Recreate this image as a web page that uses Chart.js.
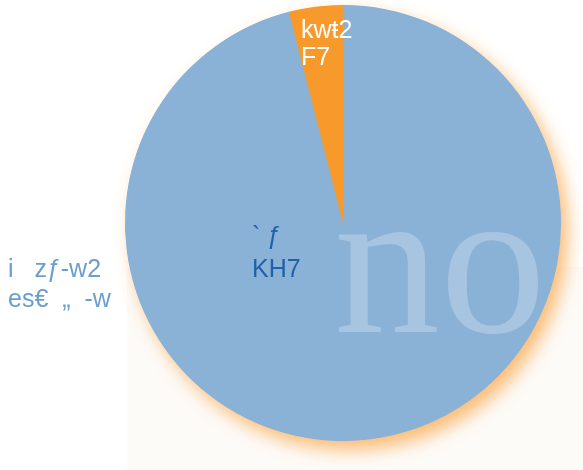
<!DOCTYPE html>
<html>
<head>
<meta charset="utf-8">
<script src="https://cdn.jsdelivr.net/npm/chart.js@4"></script>
<style>
html,body{margin:0;padding:0;background:#ffffff;}
#wrap{width:583px;height:470px;position:relative;}
</style>
</head>
<body>
<div id="wrap"><canvas id="c" width="583" height="470"></canvas></div>
<script>
// ---- data ----
const categories = ["i   zƒ-w2", "kwŧ2"];
const categorySub = ["es€  „  -w", ""];
const values = [96, 4];
const valueLabels = ["` ƒ", "F7"];
const valueSub = ["KH7", ""];
const sliceColors = ["#8ab1d6", "#f89a2b"];
const watermark = "no";

const bgPlugin = {
  id: 'bg',
  beforeDraw(chart) {
    const ctx = chart.ctx;
    ctx.save();
    ctx.fillStyle = '#ffffff';
    ctx.fillRect(0, 0, chart.width, chart.height);
    ctx.fillStyle = '#fdfbf8';
    ctx.fillRect(127, 267, chart.width - 127, chart.height - 267);
    ctx.restore();
  },
  beforeDatasetsDraw(chart) {
    const ctx = chart.ctx;
    const a0 = chart.getDatasetMeta(0).data[0];
    ctx.save();
    ctx.shadowColor = 'rgba(250,170,80,0.8)';
    ctx.shadowBlur = 18;
    ctx.shadowOffsetX = 7;
    ctx.shadowOffsetY = 9;
    ctx.fillStyle = sliceColors[0];
    ctx.beginPath();
    ctx.arc(a0.x, a0.y, a0.outerRadius - 0.5, 0, Math.PI * 2);
    ctx.fill();
    ctx.restore();
  },
  afterDatasetsDraw(chart) {
    const ctx = chart.ctx;
    const meta = chart.getDatasetMeta(0);
    const a0 = meta.data[0];
    const cx = a0.x, cy = a0.y;
    ctx.save();
    // watermark
    ctx.font = '212px "Liberation Serif", serif';
    ctx.fillStyle = 'rgba(255,255,255,0.25)';
    ctx.textBaseline = 'alphabetic';
    ctx.textAlign = 'left';
    ctx.fillText(watermark, cx - 9, cy + 109);
    // labels
    ctx.font = '25px "Liberation Sans", Arial, sans-serif';
    // orange slice label (category + value)
    ctx.fillStyle = '#ffffff';
    ctx.fillText(categories[1], cx - 42, cy - 185);
    ctx.fillText(valueLabels[1], cx - 42, cy - 158);
    // blue slice value label
    ctx.fillStyle = '#1f62a8';
    ctx.fillText(valueLabels[0], cx - 91, cy + 21);
    ctx.fillText(valueSub[0], cx - 91, cy + 54);
    // blue slice category label (outside)
    ctx.fillStyle = '#6b9dcf';
    ctx.fillText(categories[0], 8, cy + 54);
    ctx.fillText(categorySub[0], 8, cy + 84);
    ctx.restore();
  }
};

new Chart(document.getElementById('c'), {
  type: 'pie',
  data: {
    labels: categories,
    datasets: [{
      data: values,
      backgroundColor: sliceColors,
      borderWidth: 0
    }]
  },
  options: {
    responsive: false,
    animation: false,
    layout: { padding: { left: 125, right: 22, top: 5, bottom: 29 } },
    plugins: { legend: { display: false }, tooltip: { enabled: false } }
  },
  plugins: [bgPlugin]
});
</script>
</body>
</html>
